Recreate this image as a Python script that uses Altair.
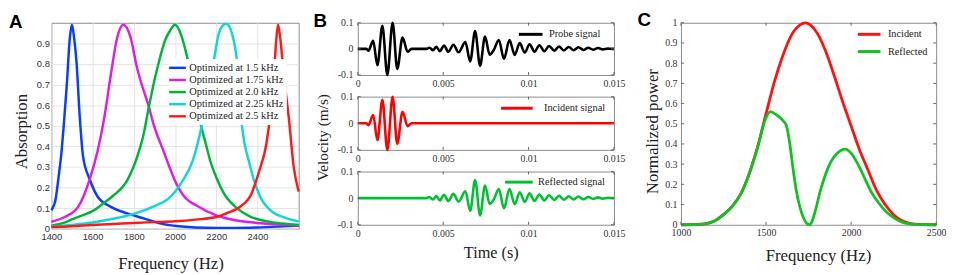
import altair as alt
import pandas as pd

SERIF = "Liberation Serif"
SANS = "Liberation Sans"
FRAME = "#8a8a8a"
TICKC = "#666666"

# ---------------- Panel A: absorption curves ----------------
A_LABELS = ["Optimized at 1.5 kHz", "Optimized at 1.75 kHz", "Optimized at 2.0 kHz",
            "Optimized at 2.25 kHz", "Optimized at 2.5 kHz"]
A_COLORS = ["#0b3dff", "#e01ee0", "#00b33c", "#12d6d6", "#ff1a1a"]

a1_f = [1400, 1420, 1435, 1450, 1460, 1475, 1490, 1500, 1510, 1522, 1538, 1554, 1586, 1625, 1689,
        1768, 1848, 1927, 2006, 2100, 2200, 2300, 2400, 2500, 2600]
a1_v = [0.09, 0.14, 0.25, 0.38, 0.50, 0.70, 0.93, 0.99, 0.93, 0.81, 0.54, 0.35, 0.24, 0.155, 0.106,
        0.074, 0.05, 0.026, 0.013, 0.006, 0.004, 0.004, 0.006, 0.01, 0.015]
a2_f = [1400, 1467, 1530, 1586, 1625, 1657, 1689, 1720, 1750, 1784, 1816, 1848, 1871, 1895, 1943,
        2006, 2050, 2100, 2200, 2300, 2400, 2500, 2600]
a2_v = [0.034, 0.058, 0.106, 0.24, 0.38, 0.54, 0.75, 0.93, 0.99, 0.93, 0.78, 0.67, 0.60, 0.51, 0.38,
        0.22, 0.15, 0.115, 0.065, 0.04, 0.028, 0.02, 0.015]
a3_f = [1400, 1450, 1500, 1550, 1600, 1648, 1700, 1768, 1820, 1848, 1871, 1900, 1927, 1950, 1975,
        2000, 2030, 2062, 2100, 2124, 2150, 2171, 2200, 2238, 2300, 2362, 2450, 2520, 2600]
a3_v = [0.015, 0.025, 0.045, 0.065, 0.085, 0.12, 0.16, 0.235, 0.36, 0.46, 0.58, 0.72, 0.83, 0.91, 0.96,
        0.99, 0.94, 0.82, 0.63, 0.51, 0.41, 0.33, 0.25, 0.17, 0.10, 0.06, 0.035, 0.025, 0.018]
a4_f = [1400, 1500, 1600, 1700, 1800, 1900, 1967, 2029, 2086, 2130, 2160, 2189, 2213, 2230, 2248,
        2262, 2276, 2300, 2324, 2363, 2411, 2475, 2530, 2600]
a4_v = [0.01, 0.018, 0.03, 0.048, 0.072, 0.11, 0.145, 0.22, 0.33, 0.50, 0.65, 0.82, 0.95, 0.985, 0.995,
        0.985, 0.95, 0.82, 0.51, 0.31, 0.16, 0.08, 0.055, 0.035]
a5_f = [1400, 1500, 1600, 1700, 1800, 1900, 2000, 2100, 2205, 2250, 2314, 2371, 2410, 2443, 2465,
        2480, 2490, 2500, 2510, 2525, 2540, 2552, 2576, 2600]
a5_v = [0.008, 0.012, 0.018, 0.023, 0.028, 0.032, 0.036, 0.044, 0.058, 0.075, 0.105, 0.17, 0.285, 0.41, 0.58,
        0.75, 0.90, 0.99, 0.93, 0.78, 0.64, 0.54, 0.30, 0.18]
A_XTICKS = [1400, 1600, 1800, 2000, 2200, 2400]
A_YTICKS = [0, 0.1, 0.2, 0.3, 0.4, 0.5, 0.6, 0.7, 0.8, 0.9]

# ---------------- Panel B: time signals ----------------
inc_t = [0.0, 0.0005, 0.00062, 0.0009, 0.00115, 0.00144, 0.00173, 0.00204, 0.00231, 0.00262,
         0.00292, 0.00315, 0.015]
inc_v = [0.0, 0.0, -0.007, 0.031, -0.063, 0.088, -0.1, 0.1, -0.077, 0.043,
         -0.011, 0.0, 0.0]
ref_t = [0.0, 0.004, 0.0042, 0.0044, 0.0046, 0.0048, 0.00505, 0.0053, 0.0056, 0.0059,
         0.0063, 0.00658, 0.00687, 0.00716, 0.00745, 0.00772, 0.00795, 0.00826, 0.00856, 0.00888,
         0.00919, 0.00948, 0.00978, 0.01006, 0.01035, 0.01063, 0.01092, 0.0112, 0.0115, 0.01178,
         0.01207, 0.01235, 0.01264, 0.01292, 0.01321, 0.0135, 0.01378, 0.01407, 0.01435, 0.01464,
         0.0149, 0.015]
ref_v = [0.0, 0.0, 0.004, -0.005, 0.008, -0.009, 0.013, -0.011, 0.016, -0.013,
         0.026, -0.048, 0.068, -0.065, 0.047, -0.022, -0.006, 0.034, -0.038, 0.034,
         -0.023, 0.022, -0.014, 0.018, -0.011, 0.014, -0.009, 0.011, -0.007, 0.009,
         -0.006, 0.007, -0.005, 0.006, -0.004, 0.004, -0.003, 0.003, -0.002, 0.001,
         0.0, 0.0]
B_XTICKS = [0, 0.005, 0.01, 0.015]
B_YTICKS = [-0.1, 0, 0.1]

# ---------------- Panel C: spectra ----------------
ci_f = [1000, 1100, 1150, 1200, 1250, 1300, 1350, 1400, 1450, 1500, 1550, 1600, 1650, 1700, 1730,
        1760, 1800, 1850, 1900, 1950, 2000, 2050, 2100, 2150, 2200, 2250, 2300, 2350, 2400, 2500]
ci_v = [0.0, 0.002, 0.006, 0.02, 0.05, 0.09, 0.15, 0.25, 0.385, 0.55, 0.71, 0.84, 0.94, 0.99, 1.0,
        0.99, 0.95, 0.86, 0.74, 0.61, 0.49, 0.37, 0.27, 0.17, 0.10, 0.05, 0.02, 0.006, 0.002, 0.0]
cr_f = [1000, 1100, 1150, 1200, 1250, 1300, 1350, 1400, 1450, 1500, 1525, 1560, 1600, 1620, 1640,
        1660, 1680, 1700, 1720, 1740, 1755, 1770, 1790, 1820, 1850, 1880, 1920, 1965, 2000, 2040,
        2080, 2120, 2160, 2200, 2250, 2300, 2350, 2400, 2500]
cr_v = [0.0, 0.002, 0.006, 0.02, 0.05, 0.09, 0.15, 0.25, 0.38, 0.53, 0.56, 0.545, 0.515, 0.49, 0.40,
        0.27, 0.16, 0.085, 0.035, 0.006, 0.0, 0.015, 0.07, 0.17, 0.25, 0.31, 0.355, 0.375, 0.355, 0.30,
        0.23, 0.16, 0.11, 0.07, 0.035, 0.013, 0.004, 0.001, 0.0]
C_XTICKS = [1000, 1500, 2000, 2500]
C_YTICKS = [0, 0.1, 0.2, 0.3, 0.4, 0.5, 0.6, 0.7, 0.8, 0.9, 1]

NEG_LABEL = "datum.value < 0 ? '-' + format(-datum.value, '~g') : format(datum.value, '~g')"
TIME_LABEL = "datum.value == 0 ? '0' : format(datum.value, '.3~f')"
SYM = 81            # legend symbol box (9 px), line drawn by a custom path
SYM_R = 4.5
TITLE_STYLE = dict(titleFont=SERIF, titleFontWeight="normal", titleColor="#222",
                   titleBaseline="alphabetic")
SERIF_LABELS = dict(tickSize=0, domain=False, grid=False, labelFont=SERIF, labelFontSize=10,
                    labelColor="#333", labelOverlap=False, labelFlush=False)


def series(xs, ys, name):
    return pd.DataFrame({"x": xs, "y": ys, "s": name})


def line_symbol(length):
    k = round(length / 2 / SYM_R, 3)
    return f"M-{k},0L{k},0"


def line_legend(length, gap, left, center_y, pad=0, **kw):
    return alt.Legend(title=None, orient="none",
                      legendX=left - pad - SYM_R + length / 2,
                      legendY=center_y - 5.25 - pad,
                      symbolType=line_symbol(length), symbolSize=SYM,
                      labelOffset=length / 2 + gap - SYM_R, padding=pad,
                      labelFont=SERIF, labelFontSize=10.5, labelColor="#222", **kw)


def inner_ticks(xvals, yvals, X, Y, w, h, L=3):
    """Inward tick marks on all four sides of a framed panel (same scales/axes as the data)."""
    tx = pd.DataFrame({"x": xvals})
    ty = pd.DataFrame({"y": yvals})
    rx = alt.Chart(tx).mark_rule(color=TICKC, strokeWidth=1)
    ry = alt.Chart(ty).mark_rule(color=TICKC, strokeWidth=1)
    return [
        rx.encode(x=X, y=alt.value(h), y2=alt.value(h - L)),
        rx.encode(x=X, y=alt.value(0), y2=alt.value(L)),
        ry.encode(y=Y, x=alt.value(0), x2=alt.value(L)),
        ry.encode(y=Y, x=alt.value(w - L), x2=alt.value(w)),
    ]


def letter(t, dx):
    return alt.TitleParams(text=t, anchor="start", frame="group", font=SANS, fontSize=19,
                           fontWeight="bold", color="black", dx=dx, offset=-13, baseline="top")


TOP = 21
# ---------------- build A ----------------
XA = 51
dfA = pd.concat([series(a1_f, a1_v, A_LABELS[0]), series(a2_f, a2_v, A_LABELS[1]),
                 series(a3_f, a3_v, A_LABELS[2]), series(a4_f, a4_v, A_LABELS[3]),
                 series(a5_f, a5_v, A_LABELS[4])])
WA, HA = 251, 209
chartA = alt.Chart(dfA).mark_line(strokeWidth=2.5, interpolate="monotone").encode(
    x=alt.X("x:Q", scale=alt.Scale(domain=[1400, 2600], nice=False, zero=False),
            axis=alt.Axis(values=A_XTICKS, format="d", title="Frequency (Hz)", grid=True,
                          gridColor="#e3e3e3", tickSize=0, domain=False, labelFont=SANS,
                          labelFontSize=9.5, labelColor="#333", labelPadding=3, labelFlush=False,
                          titleFontSize=17, titleX=121, titleY=40, **TITLE_STYLE)),
    y=alt.Y("y:Q", scale=alt.Scale(domain=[0, 1], nice=False),
            axis=alt.Axis(values=A_YTICKS, format="~g", title="Absorption", grid=True,
                          gridColor="#e3e3e3", tickSize=0, domain=False, labelFont=SANS,
                          labelFontSize=9.5, labelColor="#333", labelPadding=2, labelFlush=False,
                          titleFontSize=17, titleX=-25, titleY=110, **TITLE_STYLE)),
    color=alt.Color("s:N", scale=alt.Scale(domain=A_LABELS, range=A_COLORS), sort=A_LABELS,
                    legend=alt.Legend(title=None, orient="none", legendX=121 - 3 - 3 - 4.5 + 8.5,
                                      legendY=47 - 5.25 - 3 - 2,
                                      symbolType=line_symbol(17), symbolSize=SYM,
                                      labelOffset=8.5 + 3 - 4.5 - 1, padding=3,
                                      labelFont=SERIF, labelFontSize=10.5, labelColor="#222",
                                      symbolStrokeWidth=2.5, rowPadding=0.3, fillColor="white")),
).properties(width=WA, height=HA, title=letter("A", 8 - XA))


# ---------------- build B ----------------
XB = 361
WB = 260
bx = alt.Scale(domain=[0, 0.015], nice=False)
by = alt.Scale(domain=[-0.1, 0.1], nice=False)


def panelB(df, name, color, h, legend, xtitle=None, ytitle=None, title=None,
           xtx=None, xty=None, ytx=None, yty=None):
    xaxis = dict(values=B_XTICKS, labelExpr=TIME_LABEL, labelPadding=4, **SERIF_LABELS)
    yaxis = dict(values=B_YTICKS, labelExpr=NEG_LABEL, labelPadding=5, **SERIF_LABELS)
    if xtitle:
        xaxis.update(titleFontSize=16.5, titleX=xtx, titleY=xty, **TITLE_STYLE)
    if ytitle:
        yaxis.update(titleFontSize=15.5, titleX=ytx, titleY=yty, **TITLE_STYLE)
    X = alt.X("x:Q", scale=bx, title=xtitle, axis=alt.Axis(**xaxis))
    Y = alt.Y("y:Q", scale=by, title=ytitle, axis=alt.Axis(**yaxis))
    line = alt.Chart(df).mark_line(strokeWidth=2.6, interpolate="monotone").encode(
        x=X, y=Y,
        color=alt.Color("s:N", scale=alt.Scale(domain=[name], range=[color]), legend=legend),
    )
    props = dict(width=WB, height=h)
    if title is not None:
        props["title"] = title
    return alt.layer(line, *inner_ticks(B_XTICKS, B_YTICKS, X, Y, WB, h)).properties(**props)


probe_t = [t for t in inc_t if t <= 0.00315] + [t for t in ref_t if t >= 0.004]
probe_v = [v for t, v in zip(inc_t, inc_v) if t <= 0.00315] + [v for t, v in zip(ref_t, ref_v) if t >= 0.004]

TB2 = TOP + 53 + 22
TB3 = TB2 + 54 + 22
B1 = panelB(series(probe_t, probe_v, "Probe signal"), "Probe signal", "#000000", 53,
            line_legend(24, 5, 523 - XB, 32 - TOP, symbolStrokeWidth=3),
            title=letter("B", 316 - XB))
B2 = panelB(series(inc_t, inc_v, "Incident signal"), "Incident signal", "#ff0000", 54,
            line_legend(32, 10, 505 - XB, 107 - TB2, symbolStrokeWidth=3),
            ytitle="Velocity (m/s)", ytx=330 - XB, yty=137 - TB2)
B3 = panelB(series(ref_t, ref_v, "Reflected signal"), "Reflected signal", "#00c032", 54,
            line_legend(28, 4, 509 - XB, 182 - TB3, symbolStrokeWidth=3),
            xtitle="Time (s)", xtx=496 - XB, xty=259 - (TB3 + 54))
chartB = alt.vconcat(B1, B2, B3, spacing=22, bounds="flush").resolve_scale(color="independent")

# ---------------- build C ----------------
XC = 684
WC, HC = 259, 205
cx = alt.Scale(domain=[1000, 2500], nice=False, zero=False)
cy = alt.Scale(domain=[0, 1], nice=False)
XCe = alt.X("x:Q", scale=cx, title="Frequency (Hz)",
            axis=alt.Axis(values=C_XTICKS, format="d", labelPadding=3, titleFontSize=17,
                          titleX=823 - XC, titleY=262 - (TOP + HC), **SERIF_LABELS, **TITLE_STYLE))
YCe = alt.Y("y:Q", scale=cy, title="Normalized power",
            axis=alt.Axis(values=C_YTICKS, format="~g", labelPadding=4, titleFontSize=17,
                          titleX=660 - XC, titleY=131 - TOP, **SERIF_LABELS, **TITLE_STYLE))
dfC = pd.concat([series(ci_f, ci_v, "Incident"), series(cr_f, cr_v, "Reflected")])
lineC = alt.Chart(dfC).mark_line(strokeWidth=2.8, interpolate="monotone").encode(
    x=XCe, y=YCe,
    color=alt.Color("s:N", scale=alt.Scale(domain=["Incident", "Reflected"], range=["#ff1111", "#11c022"]),
                    legend=line_legend(23, 6, 862 - XC, 32 - TOP, symbolStrokeWidth=3,
                                       rowPadding=5.5)),
)
chartC = alt.layer(lineC, *inner_ticks(C_XTICKS, C_YTICKS, XCe, YCe, WC, HC)).properties(
    width=WC, height=HC, title=letter("C", 640 - XC))

leftAB = alt.hconcat(chartA, chartB, spacing=8).resolve_scale(color="independent")
chart = alt.hconcat(leftAB, chartC, spacing=11).resolve_scale(
    color="independent").properties(padding=0).configure_view(stroke=FRAME, strokeWidth=1)

chart.save("out.html", embed_options={"renderer": "svg", "actions": False})
